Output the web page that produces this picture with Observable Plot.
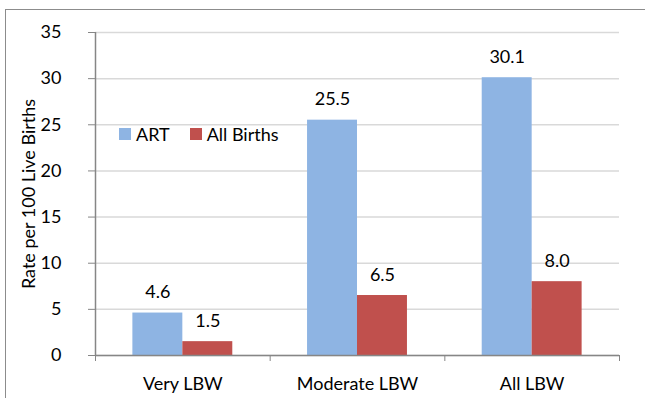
<!DOCTYPE html>
<html>
<head>
<meta charset="utf-8">
<script src="https://cdn.jsdelivr.net/npm/d3@7"></script>
<script src="https://cdn.jsdelivr.net/npm/@observablehq/plot@0.6"></script>
<style>
  html, body { margin: 0; padding: 0; background: #fff; overflow: hidden; }
  #wrap { position: relative; width: 645px; height: 398px; overflow: hidden; }
  #box { position: absolute; left: 5px; top: 9px; width: 700px; height: 500px; border: 1px solid #8c8c8c; box-sizing: border-box; }
  #chart { position: absolute; left: 0; top: 0; }
  #legend { position: absolute; left: 119px; top: 123px; height: 22px; font-family: Lato, "Open Sans", sans-serif; font-size: 18px; line-height: 22px; color: #000; display: flex; align-items: center; }
  #legend .item { display: flex; align-items: center; }
  #legend .sw { width: 12px; height: 12px; margin-right: 5px; }
</style>
</head>
<body>
<div id="wrap">
  <div id="box"></div>
  <div id="chart"></div>
  <div id="legend"></div>
</div>
<script>
const categories = ["Very LBW", "Moderate LBW", "All LBW"];
const series = ["ART", "All Births"];
const artValues = [4.6, 25.5, 30.1];
const allBirthsValues = [1.5, 6.5, 8.0];
const yTicks = [0, 5, 10, 15, 20, 25, 30, 35];
const seriesColors = ["#8EB4E3", "#C0504D"];

const valuesBySeries = [artValues, allBirthsValues];
const data = categories.flatMap((cat, i) =>
  series.map((s, k) => ({ cat, i, k, series: s, value: valuesBySeries[k][i] }))
);

const barFrac = 0.286;               // width of one bar as a fraction of a category band
const groupStart = (1 - 2 * barFrac) / 2;
const x1 = d => d.i + groupStart + d.k * barFrac;
const x2 = d => d.i + groupStart + (d.k + 1) * barFrac;
const xc = d => d.i + groupStart + (d.k + 0.5) * barFrac;

const font = 'Lato, "Open Sans", sans-serif';
const fs = 18;

const plot = Plot.plot({
  width: 645,
  height: 398,
  marginLeft: 95,
  marginRight: 26,
  marginTop: 32,
  marginBottom: 43,
  style: { fontFamily: font, fontSize: fs + "px", color: "#000", background: "transparent", overflow: "visible" },
  x: { domain: [0, categories.length] },
  y: { domain: [0, 35] },
  color: { domain: series, range: seriesColors },
  marks: [
    Plot.gridY(yTicks, { stroke: "#d9d9d9", strokeOpacity: 1, strokeWidth: 1.5 }),
    Plot.rectY(data, { x1, x2, y: "value", fill: "series" }),
    Plot.text(data, { x: xc, y: "value", text: d => d.value.toFixed(1), lineAnchor: "bottom", dy: -15, fontSize: fs, fill: "#000" }),
    Plot.ruleY([0], { stroke: "#868686", strokeWidth: 1.5 }),
    Plot.ruleX([0], { stroke: "#868686", strokeWidth: 1.5 }),
    Plot.axisY({ ticks: yTicks, tickSize: 7, tickPadding: 27, stroke: "#868686", label: null, fontSize: fs, fill: "#000" }),
    Plot.text(["Rate per 100 Live Births"], { frameAnchor: "left", textAnchor: "middle", dx: -66, rotate: -90, fontSize: fs, fill: "#000" }),
    Plot.axisX({ ticks: d3.range(categories.length + 1), tickSize: 6, tickFormat: () => "", stroke: "#868686", label: null }),
    Plot.axisX({ ticks: categories.map((c, i) => i + 0.5), tickSize: 0, tickPadding: 22, tickFormat: v => categories[Math.floor(v)], label: null, fontSize: fs, fill: "#000" })
  ]
});
document.getElementById("chart").appendChild(plot);

const legend = document.getElementById("legend");
series.forEach((s, k) => {
  const item = document.createElement("div");
  item.className = "item";
  const sw = document.createElement("div");
  sw.className = "sw";
  sw.style.background = seriesColors[k];
  const t = document.createElement("span");
  t.textContent = s;
  item.appendChild(sw);
  item.appendChild(t);
  if (k === 0) item.style.marginRight = "20px";
  legend.appendChild(item);
});
</script>
</body>
</html>
